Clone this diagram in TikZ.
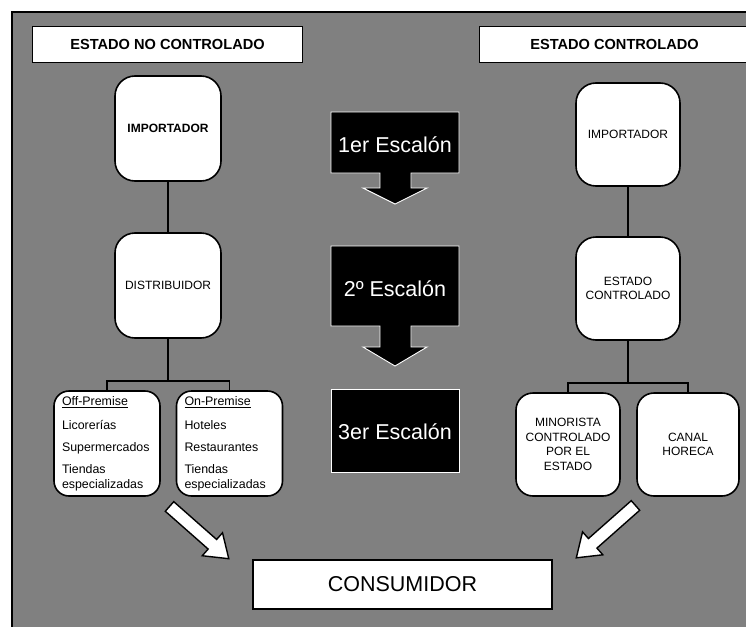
\documentclass[tikz,border=0pt]{standalone}
\usepackage{fontspec}
\setmainfont{Liberation Sans}
\usetikzlibrary{shapes.arrows}

\begin{document}
\begin{tikzpicture}[x=1pt, y=-1pt,
    cabecera/.style = {draw, fill=white, line width=0.8pt, inner sep=0pt,
      minimum width=270pt, minimum height=36pt,
      font=\fontsize{14.6}{17}\selectfont\bfseries},
    caja/.style = {draw, fill=white, line width=1.6pt, rounded corners=20pt,
      align=center, inner sep=3pt, minimum width=106pt, minimum height=105pt,
      font=\fontsize{12}{14.6}\selectfont},
    canal/.style = {caja, rounded corners=15pt, align=left, text width=90pt,
      inner xsep=8pt, font=\fontsize{12.4}{15}\selectfont},
    escalon/.style = {fill=black, draw=white, line width=0.9pt},
    esctexto/.style = {text=white, inner sep=0pt, font=\fontsize{21.5}{24}\selectfont},
    linea/.style = {line width=1.8pt},
    flecha/.style = {single arrow, draw, fill=white, line width=1.4pt,
      inner xsep=0pt, inner ysep=5.7pt, minimum height=79pt,
      single arrow head extend=8.9pt, single arrow tip angle=70}
  ]
  \useasboundingbox (0,0) rectangle (746,626);
  \fill[gray] (12,12) rectangle (760,640);
  \draw[line width=2.5pt] (12,640) -- (12,12) -- (760,12);

  % cabeceras
  \node[cabecera] (noctrl) at (167.5,44) {ESTADO NO CONTROLADO};
  \node[cabecera] (ctrl) at (614.5,44) {ESTADO CONTROLADO};

  % estado no controlado
  \node[caja, font=\fontsize{12}{14.6}\selectfont\bfseries] (impNo) at (168,128.5) {IMPORTADOR};
  \node[caja] (distNo) at (168,285.5) {DISTRIBUIDOR};
  \node[canal] (off) at (107,443.5) {\underline{Off-Premise}\\[9pt] Licorerías\\[7pt] Supermercados\\[7pt] Tiendas\\ especializadas};
  \node[canal] (on) at (229.5,443.5) {\underline{On-Premise}\\[9pt] Hoteles\\[7pt] Restaurantes\\[7pt] Tiendas\\ especializadas};

  \coordinate (ramNo) at (168,381);
  \draw[linea] (impNo) -- (distNo);
  \draw[linea] (distNo) -- (ramNo);
  \draw[linea] (off) |- (ramNo) -| (on);

  % estado controlado
  \node[caja, minimum width=104pt, minimum height=103pt] (impSi) at (628,134.5) {IMPORTADOR};
  \node[caja, minimum width=104pt, minimum height=103pt] (estSi) at (628,288.5) {ESTADO\\CONTROLADO};
  \node[caja, minimum width=104pt, minimum height=103pt, rounded corners=17pt] (minor) at (568,444.5) {MINORISTA\\CONTROLADO\\POR EL\\ESTADO};
  \node[caja, minimum width=102pt, minimum height=103pt, rounded corners=17pt] (horeca) at (688,444.5) {CANAL\\HORECA};

  \coordinate (ramSi) at (628,383);
  \draw[linea] (impSi) -- (estSi);
  \draw[linea] (estSi) -- (ramSi);
  \draw[linea] (minor) |- (ramSi) -| (horeca);

  % escalones
  \filldraw[escalon] (331,112) -- (459,112) -- (459,173) -- (411,173) -- (411,188) -- (427,188)
    -- (395,204) -- (363,188) -- (380,188) -- (380,173) -- (331,173) -- cycle;
  \node[esctexto] (esc1) at (395,145) {1er Escalón};
  \filldraw[escalon] (331,246) -- (459,246) -- (459,326) -- (411,326) -- (411,347) -- (427,347)
    -- (395,366) -- (363,347) -- (380,347) -- (380,326) -- (331,326) -- cycle;
  \node[esctexto] (esc2) at (395,289) {2º Escalón};
  \filldraw[escalon] (331,389) rectangle (459,472);
  \node[esctexto] (esc3) at (395,432) {3er Escalón};

  % consumidor
  \node[draw, fill=white, line width=1.4pt, minimum width=299pt, minimum height=49pt,
    font=\fontsize{21.5}{24}\selectfont] (cons) at (402.5,584.5) {CONSUMIDOR};
  \node[flecha, rotate=-41.4, anchor=tail] (flNo) at (169,506) {};
  \node[flecha, rotate=-138.5, anchor=tail] (flSi) at (636,505) {};
\end{tikzpicture}
\end{document}
